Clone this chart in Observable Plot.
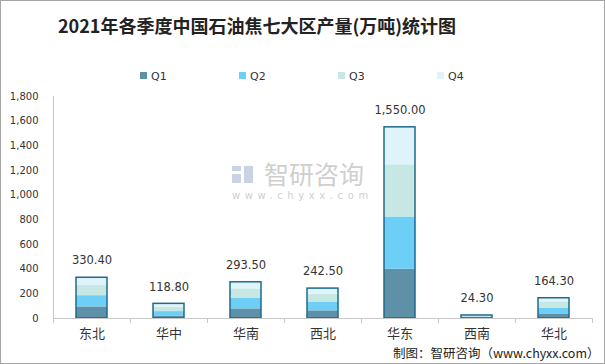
<!DOCTYPE html>
<html><head><meta charset="utf-8">
<script src="https://cdn.jsdelivr.net/npm/d3@7"></script>
<script src="https://cdn.jsdelivr.net/npm/@observablehq/plot@0.6"></script>
<style>
html,body{margin:0;padding:0;background:#fff;}
#wrap{width:603px;height:362px;border:1px solid #a6a6a6;position:relative;overflow:hidden;}
svg{display:block;}
</style></head>
<body><div id="wrap"></div>
<script>
const regions = ["东北","华中","华南","西北","华东","西南","华北"];
const quarters = ["Q1","Q2","Q3","Q4"];
const q1 = [94, 20, 78, 62, 400, 6, 37];
const q2 = [91, 36, 87, 68, 423, 6, 47];
const q3 = [82, 34, 75, 68, 423, 6, 51];
const q4 = [63.4, 28.8, 53.5, 44.5, 304, 6.3, 29.3];
const totals = [330.4, 118.8, 293.5, 242.5, 1550, 24.3, 164.3];
const yTicks = [0,200,400,600,800,1000,1200,1400,1600,1800];
const colors = ["#5e90a7","#6dcff6","#c7e7e3","#dff4fa"];

const series = [q1,q2,q3,q4];
const rows = [];
regions.forEach((r,i)=>quarters.forEach((q,j)=>rows.push({region:r, quarter:q, value:series[j][i]})));
const totalRows = regions.map((r,i)=>({region:r, total:totals[i]}));

const font = "'DejaVu Sans','Noto Sans CJK SC',sans-serif";
const W = 603, H = 362;
const plot = Plot.plot({
  width: W, height: H,
  marginTop: 95, marginBottom: 45, marginLeft: 52, marginRight: 12,
  style: {fontFamily: font, background: "#fff", color: "#333"},
  x: {domain: regions, paddingInner: 0.6, paddingOuter: 0.3, label: null},
  y: {domain: [0,1800], ticks: yTicks, label: null},
  color: {domain: quarters, range: colors},
  marks: [
    Plot.axisY({ticks: yTicks, tickFormat: d3.format(","), tickSize: 0, tickPadding: 15, fontSize: 10, fill: "#333", label: null}),
    Plot.axisX({tickSize: 0, tickPadding: 10, fontSize: 13, fill: "#333", label: null}),
    Plot.barY(rows, {x: "region", y: "value", fill: "quarter", order: quarters}),
    Plot.barY(totalRows, {x: "region", y: "total", fill: "none", stroke: "#1e6b8c", strokeWidth: 1.5}),
    Plot.ruleY([0], {stroke: "#c8c8c8"}),
    Plot.text(totalRows, {x: "region", y: "total", text: d => d3.format(",.2f")(d.total), dy: -17, fontSize: 11.5, fill: "#333"})
  ]
});
const svg = d3.select(plot);
const y0 = H - 45;
// y axis line
svg.append("line").attr("x1",52.5).attr("x2",52.5).attr("y1",95).attr("y2",y0).attr("stroke","#c8c8c8");
// category boundary ticks
for (let k=0;k<=regions.length;k++){
  const xx = Math.round(52 + k*(W-52-12)/regions.length)+0.5;
  svg.append("line").attr("x1",xx).attr("x2",xx).attr("y1",y0).attr("y2",y0+5).attr("stroke","#c8c8c8");
}
// title
svg.append("text").attr("x",57).attr("y",32).attr("font-size",18).attr("font-weight","bold").attr("text-anchor","start")
  .attr("fill","#222").attr("font-family","'Noto Sans CJK SC',sans-serif").text("2021年各季度中国石油焦七大区产量(万吨)统计图");
// legend
const lx = [139, 238, 337, 436];
quarters.forEach((q,j)=>{
  svg.append("rect").attr("x",lx[j]).attr("y",71).attr("width",7).attr("height",7).attr("fill",colors[j]);
  svg.append("text").attr("x",lx[j]+11).attr("y",79).attr("font-size",11).attr("fill","#333").attr("text-anchor","start").attr("font-family",font).text(q);
});
// watermark
const wm = svg.append("g").attr("fill","#cfcfcf").attr("text-anchor","start");
wm.append("rect").attr("x",231).attr("y",165).attr("width",9).attr("height",5).attr("fill","#c9d3e4");
wm.append("rect").attr("x",231).attr("y",173).attr("width",9).attr("height",9).attr("fill","#c9d3e4");
wm.append("rect").attr("x",243).attr("y",165).attr("width",9).attr("height",17).attr("fill","#c9d3e4");
wm.append("text").attr("x",263).attr("y",183).attr("font-size",25).attr("font-family","'Noto Sans CJK SC',sans-serif").text("智研咨询");
wm.append("text").attr("x",231).attr("y",198).attr("font-size",10).attr("letter-spacing","4.6").attr("font-family",font).text("www.chyxx.com");
// footer
svg.append("text").attr("x",392).attr("y",357).attr("font-size",12.5).attr("fill","#222").attr("text-anchor","start")
  .attr("font-family","'Noto Sans CJK SC',sans-serif").text("制图：智研咨询（www.chyxx.com）");
document.getElementById("wrap").appendChild(plot);
</script></body></html>
